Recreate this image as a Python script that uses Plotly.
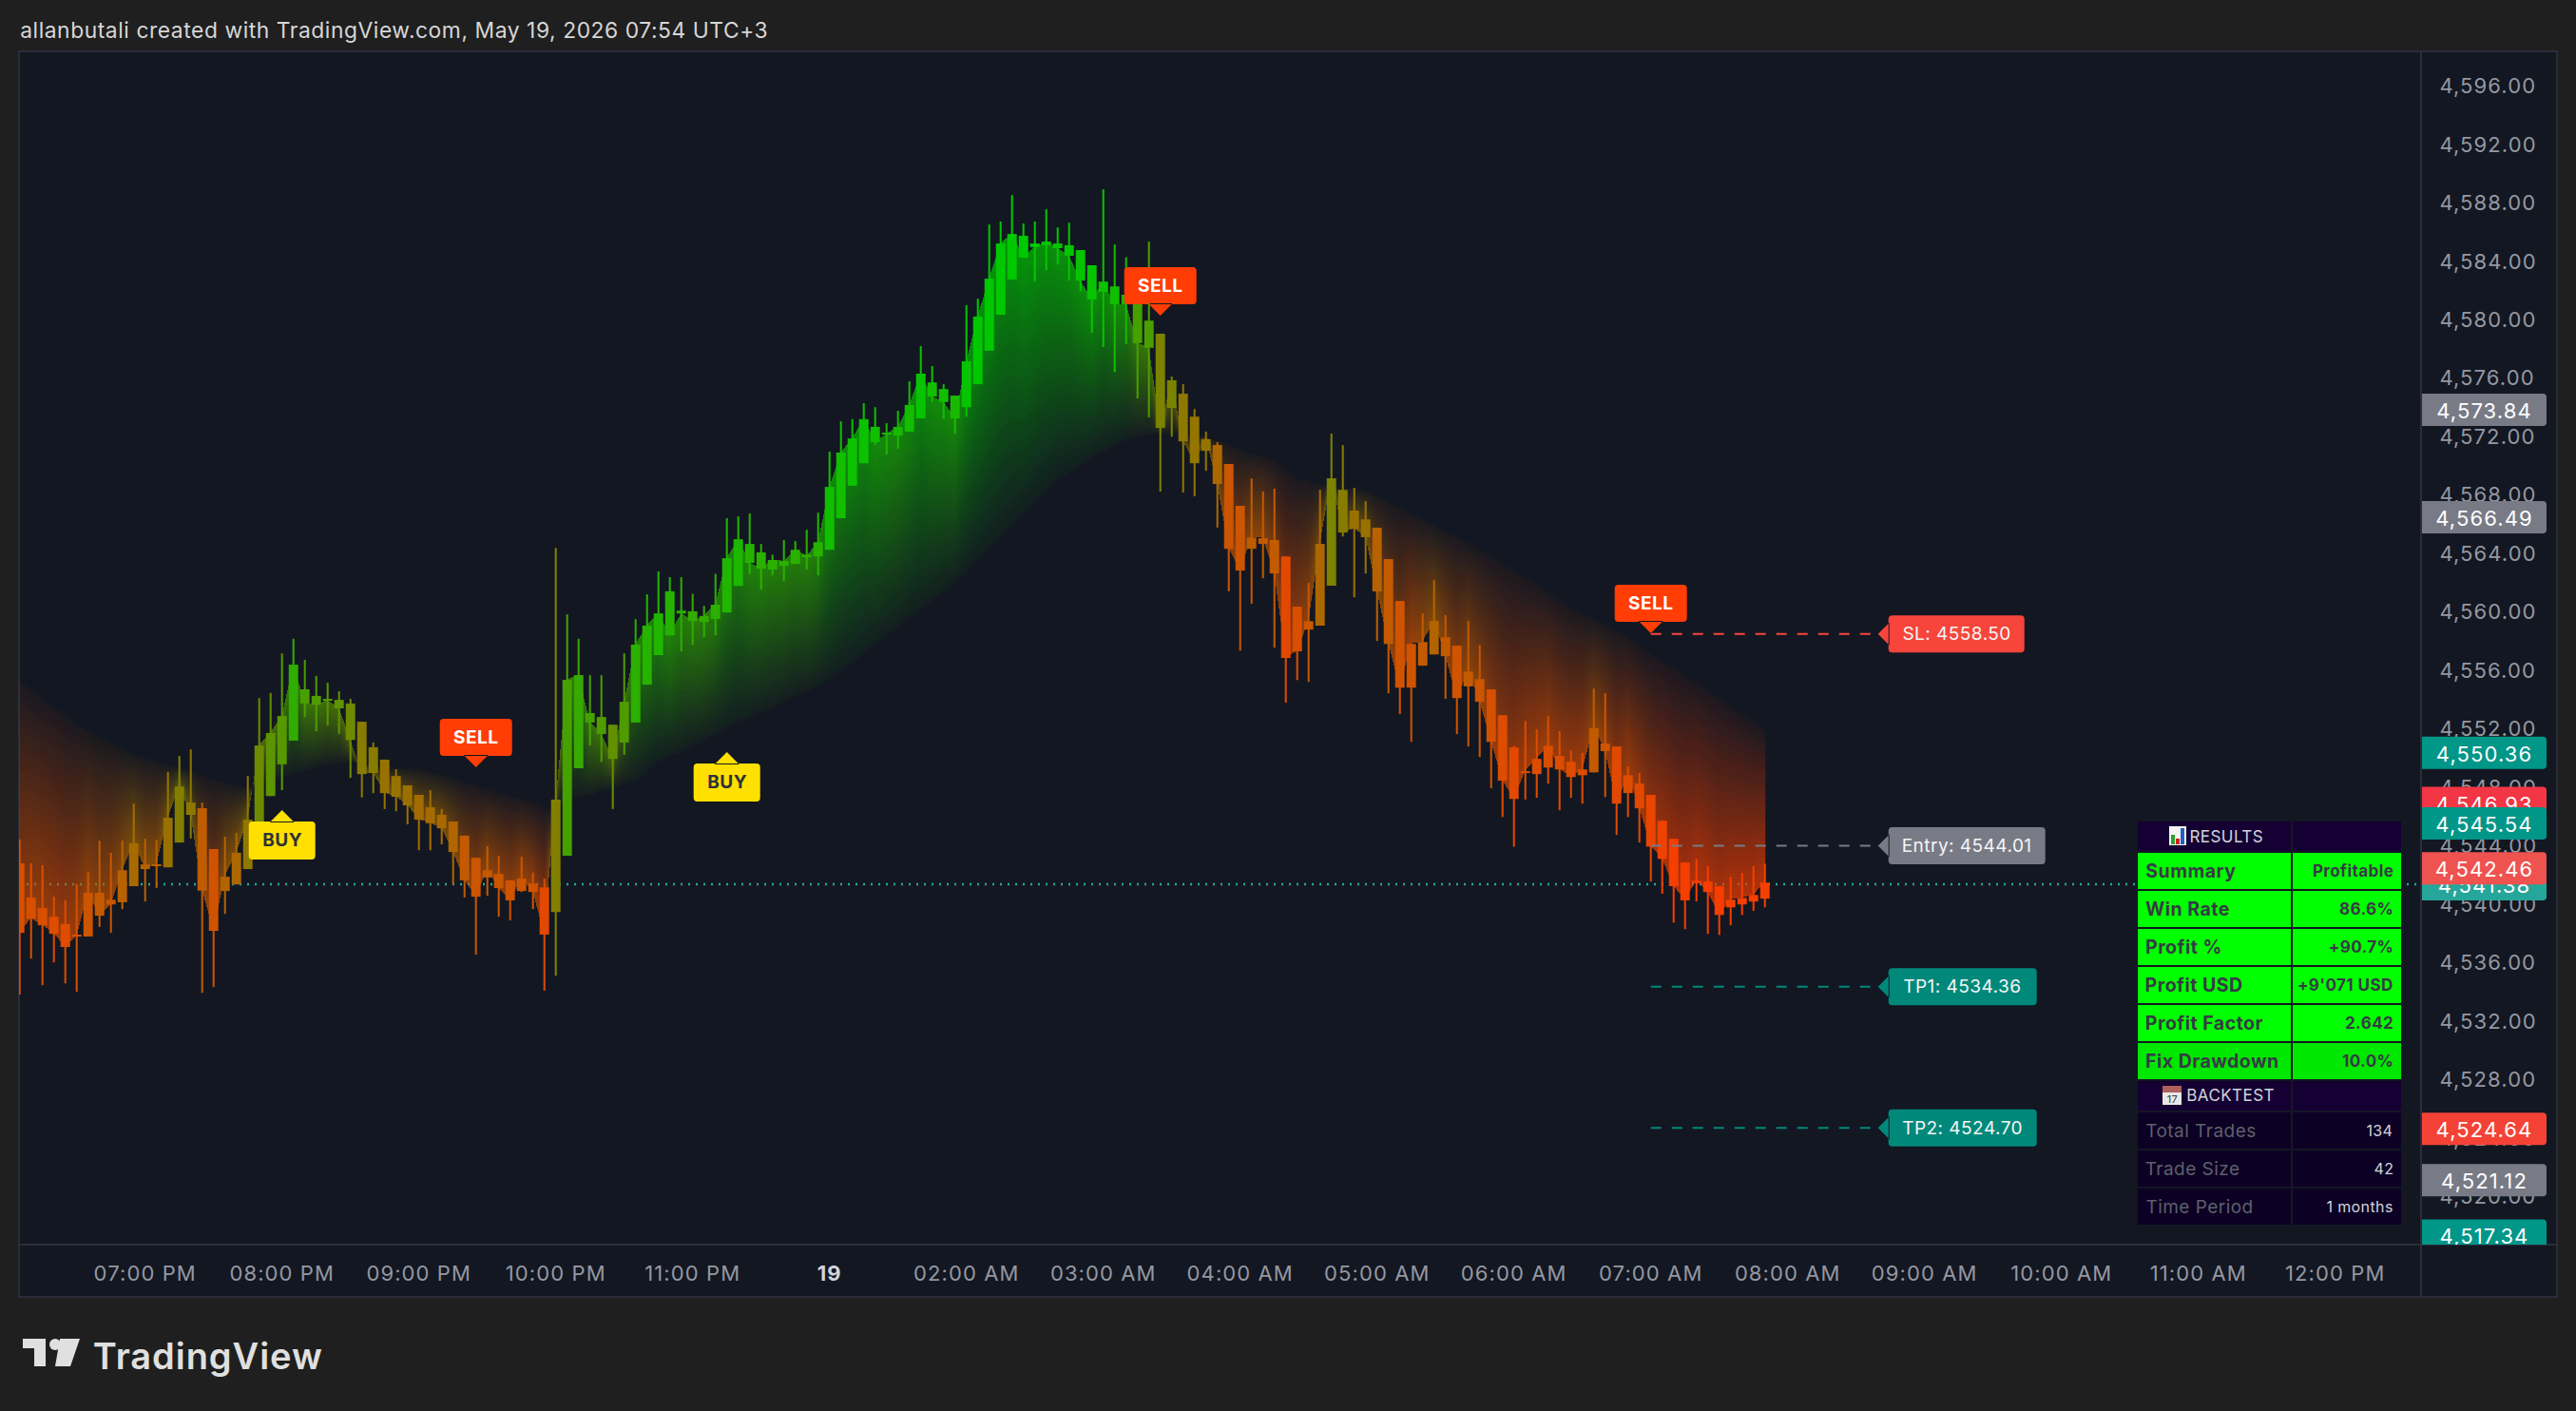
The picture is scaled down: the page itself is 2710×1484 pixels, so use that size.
import base64
import struct
import zlib

import numpy as np
import plotly.graph_objects as go

# 5 minute gold candles
open_p = [4542.70, 4540.36, 4539.63, 4539.04, 4538.54, 4537.79, 4537.69, 4540.68, 4540.21, 4540.03,
          4541.13, 4542.62, 4542.52, 4542.42, 4544.12, 4546.85, 4546.46, 4543.67, 4540.80, 4541.25,
          4542.30, 4545.34, 4547.30, 4549.47, 4551.09, 4554.60, 4554.15, 4553.95, 4553.88, 4553.63,
          4552.38, 4550.64, 4549.79, 4548.67, 4548.03, 4547.38, 4546.53, 4546.01, 4545.56, 4544.59,
          4543.07, 4541.73, 4541.97, 4541.53, 4540.80, 4541.30, 4541.05, 4539.36, 4543.22, 4549.20,
          4552.98, 4552.71, 4552.18, 4550.96, 4552.33, 4554.92, 4556.94, 4561.31, 4559.99, 4559.94,
          4559.22, 4559.42, 4559.86, 4561.68, 4564.55, 4563.97, 4562.80, 4563.05, 4563.18, 4563.82,
          4563.70, 4564.15, 4566.31, 4568.53, 4570.07, 4572.56, 4572.16, 4571.97, 4572.24, 4573.14,
          4575.60, 4575.15, 4574.70, 4573.91, 4575.48, 4577.77, 4580.23, 4582.65, 4585.64, 4585.11,
          4584.99, 4585.11, 4584.99, 4584.66, 4583.62, 4581.80, 4582.17, 4581.60, 4581.30, 4579.83,
          4578.94, 4573.86, 4574.83, 4573.26, 4570.92, 4571.32, 4570.02, 4567.16, 4564.22, 4564.55,
          4564.82, 4563.70, 4560.26, 4558.69, 4558.96, 4561.70, 4568.25, 4566.83, 4566.23, 4565.66,
          4563.51, 4560.65, 4554.72, 4556.22, 4556.99, 4558.16, 4557.59, 4554.80, 4555.30, 4554.60,
          4552.83, 4550.62, 4548.87, 4548.80, 4549.25, 4550.04, 4549.64, 4548.72, 4548.92, 4550.89,
          4550.69, 4547.50, 4548.15, 4547.38, 4545.61, 4544.37, 4542.75, 4541.38, 4541.45, 4541.13,
          4539.68, 4539.88, 4540.08, 4540.28]
high_p = [4544.34, 4542.70, 4542.57, 4540.41, 4540.16, 4541.30, 4542.10, 4544.24, 4543.42, 4544.24,
          4546.78, 4544.39, 4544.29, 4548.95, 4550.04, 4550.49, 4546.85, 4543.67, 4544.51, 4544.76,
          4548.67, 4554.00, 4554.35, 4557.06, 4558.06, 4556.62, 4555.52, 4555.05, 4554.47, 4553.95,
          4552.38, 4550.96, 4549.79, 4549.12, 4548.03, 4547.38, 4547.70, 4546.41, 4545.56, 4544.59,
          4543.07, 4543.87, 4543.22, 4541.53, 4543.14, 4542.05, 4541.65, 4564.28, 4559.73, 4558.06,
          4555.57, 4555.57, 4552.18, 4557.06, 4559.40, 4561.10, 4562.67, 4562.28, 4562.28, 4561.13,
          4560.31, 4562.50, 4566.31, 4566.44, 4566.64, 4564.55, 4563.82, 4564.82, 4564.74, 4565.52,
          4566.69, 4570.87, 4572.94, 4573.09, 4574.18, 4573.91, 4572.81, 4573.66, 4575.68, 4578.09,
          4576.72, 4575.48, 4574.70, 4580.88, 4581.33, 4586.41, 4586.61, 4588.42, 4586.48, 4586.61,
          4587.45, 4586.21, 4586.53, 4584.66, 4583.62, 4588.82, 4585.04, 4584.17, 4581.30, 4585.24,
          4578.94, 4576.00, 4575.48, 4573.78, 4572.24, 4571.52, 4570.02, 4567.16, 4569.03, 4568.13,
          4568.33, 4563.70, 4560.26, 4561.88, 4568.25, 4572.10, 4571.31, 4568.39, 4567.47, 4565.66,
          4563.51, 4560.65, 4557.71, 4559.80, 4562.07, 4559.68, 4557.59, 4559.28, 4557.64, 4554.60,
          4552.83, 4550.74, 4552.43, 4551.86, 4552.76, 4551.74, 4550.42, 4550.24, 4554.65, 4554.33,
          4550.69, 4549.32, 4548.87, 4547.38, 4545.61, 4544.37, 4542.75, 4543.00, 4542.50, 4541.13,
          4541.78, 4542.03, 4542.50, 4542.67]
low_p = [4533.71, 4536.17, 4534.36, 4535.92, 4534.48, 4533.91, 4537.69, 4538.34, 4537.94, 4539.56,
         4541.13, 4540.08, 4541.00, 4542.42, 4544.12, 4544.39, 4533.83, 4534.23, 4539.24, 4541.25,
         4542.30, 4545.34, 4547.30, 4547.70, 4551.09, 4552.71, 4551.74, 4552.13, 4551.54, 4548.55,
         4547.20, 4547.50, 4546.41, 4546.26, 4545.36, 4543.59, 4543.59, 4543.99, 4541.23, 4540.36,
         4536.45, 4540.48, 4539.04, 4538.79, 4540.73, 4539.56, 4533.98, 4535.00, 4543.22, 4549.20,
         4550.76, 4549.64, 4546.41, 4550.12, 4552.33, 4554.92, 4556.94, 4558.30, 4557.20, 4557.65,
         4558.17, 4558.30, 4559.86, 4561.68, 4562.48, 4561.43, 4562.40, 4562.01, 4563.18, 4562.80,
         4562.40, 4564.15, 4566.31, 4568.53, 4570.07, 4571.32, 4570.67, 4571.07, 4572.24, 4573.14,
         4574.26, 4573.09, 4572.09, 4573.26, 4575.48, 4577.77, 4580.23, 4582.65, 4584.14, 4582.50,
         4583.29, 4583.67, 4582.57, 4581.85, 4578.99, 4578.02, 4576.32, 4578.22, 4574.51, 4573.21,
         4568.13, 4571.89, 4568.06, 4567.81, 4569.55, 4565.67, 4561.31, 4557.25, 4560.46, 4562.20,
         4557.45, 4553.69, 4555.23, 4555.11, 4558.96, 4561.70, 4565.06, 4560.90, 4562.52, 4557.91,
         4554.33, 4552.91, 4551.01, 4556.22, 4556.99, 4553.95, 4551.54, 4550.69, 4549.97, 4547.83,
         4545.86, 4543.84, 4547.06, 4547.18, 4548.15, 4546.33, 4547.18, 4546.78, 4548.92, 4547.23,
         4544.64, 4545.86, 4544.12, 4541.45, 4540.61, 4538.64, 4538.19, 4540.08, 4537.87, 4537.79,
         4538.46, 4539.16, 4539.44, 4539.68]
close_p = [4537.94, 4538.91, 4538.46, 4537.87, 4536.97, 4537.69, 4540.68, 4539.11, 4539.88, 4542.22,
           4544.07, 4542.30, 4542.62, 4545.81, 4547.95, 4546.01, 4540.83, 4538.07, 4541.78, 4543.42,
           4545.68, 4550.76, 4551.61, 4552.78, 4556.29, 4553.63, 4553.55, 4553.83, 4553.30, 4551.14,
           4548.80, 4548.87, 4547.50, 4547.25, 4546.66, 4545.68, 4545.44, 4545.09, 4543.47, 4541.53,
           4540.41, 4542.22, 4541.00, 4540.16, 4541.65, 4540.73, 4537.82, 4547.05, 4555.25, 4555.57,
           4552.33, 4551.54, 4549.84, 4553.75, 4557.66, 4558.96, 4559.80, 4558.30, 4559.79, 4559.27,
           4559.62, 4560.39, 4563.57, 4564.87, 4563.25, 4562.85, 4563.45, 4563.37, 4564.15, 4563.70,
           4564.67, 4568.45, 4570.80, 4571.77, 4573.09, 4571.52, 4572.04, 4572.56, 4574.06, 4576.20,
           4574.63, 4574.26, 4573.14, 4577.05, 4580.11, 4582.70, 4585.11, 4585.76, 4584.14, 4584.86,
           4585.24, 4584.79, 4584.27, 4582.57, 4581.28, 4582.50, 4580.95, 4580.95, 4578.29, 4577.97,
           4572.49, 4575.75, 4571.57, 4570.07, 4571.72, 4568.65, 4564.22, 4562.73, 4564.99, 4564.94,
           4562.53, 4556.75, 4557.20, 4559.27, 4564.56, 4569.04, 4565.33, 4565.58, 4565.01, 4561.30,
           4557.71, 4554.72, 4557.71, 4557.84, 4559.28, 4556.87, 4554.00, 4555.82, 4553.75, 4551.01,
           4548.35, 4547.10, 4549.00, 4549.84, 4550.74, 4549.12, 4548.60, 4549.12, 4551.94, 4550.37,
           4546.78, 4548.72, 4546.46, 4543.84, 4543.00, 4541.13, 4540.16, 4541.50, 4540.73, 4539.16,
           4540.21, 4540.33, 4540.53, 4541.38]
# slow average the gradient cloud fades out to
slow_ma = [4555.2, 4554.6, 4554.0, 4553.4, 4552.8, 4552.2, 4551.7, 4551.3, 4550.9, 4550.5,
           4550.1, 4549.9, 4549.6, 4549.4, 4549.2, 4549.0, 4548.7, 4548.4, 4548.2, 4548.0,
           4547.8, 4548.0, 4548.2, 4548.5, 4548.8, 4549.0, 4549.2, 4549.4, 4549.5, 4549.6,
           4549.5, 4549.4, 4549.3, 4549.2, 4549.15, 4549.1, 4548.9, 4548.7, 4548.5, 4548.2,
           4548.0, 4547.75, 4547.5, 4547.3, 4547.05, 4546.8, 4546.5, 4546.2, 4547.1, 4547.2,
           4547.3, 4547.6, 4547.8, 4548.1, 4548.3, 4548.9, 4549.6, 4550.0, 4550.3, 4550.7,
           4551.0, 4551.5, 4551.9, 4552.3, 4552.6, 4553.0, 4553.3, 4553.7, 4554.1, 4554.4,
           4554.8, 4555.2, 4555.8, 4556.4, 4557.0, 4557.6, 4558.2, 4558.8, 4559.4, 4560.0,
           4560.6, 4561.2, 4561.8, 4562.6, 4563.4, 4564.2, 4565.0, 4565.8, 4566.6, 4567.4,
           4568.1, 4568.9, 4569.4, 4569.9, 4570.4, 4570.8, 4571.2, 4571.6, 4571.8, 4572.0,
           4572.1, 4572.1, 4572.0, 4571.9, 4571.85, 4571.6, 4571.3, 4571.0, 4570.7, 4570.5,
           4570.3, 4569.6, 4569.0, 4568.8, 4568.6, 4568.5, 4568.4, 4568.3, 4568.2, 4567.8,
           4567.4, 4567.0, 4566.6, 4566.2, 4565.8, 4565.4, 4565.0, 4564.6, 4564.1, 4563.7,
           4563.2, 4562.7, 4562.2, 4561.7, 4561.2, 4560.7, 4560.1, 4559.7, 4559.4, 4559.0,
           4558.6, 4558.1, 4557.6, 4557.0, 4556.5, 4556.0, 4555.5, 4555.0, 4554.5, 4554.0,
           4553.4, 4552.9, 4552.4, 4551.8]
# 0 = bearish orange, 1 = bullish green
trend = [.12, .12, .12, .10, .10, .12, .17, .20, .17, .25,
         .32, .25, .25, .37, .47, .42, .22, .15, .27, .30,
         .42, .55, .62, .65, .80, .70, .68, .65, .62, .55,
         .45, .45, .38, .38, .37, .33, .33, .32, .28, .20,
         .17, .20, .17, .15, .17, .15, .08, .47, .72, .78,
         .72, .68, .60, .68, .82, .85, .87, .85, .82, .80,
         .80, .82, .87, .88, .85, .83, .83, .82, .83, .82,
         .85, .93, .93, .95, .95, .93, .90, .90, .93, .97,
         .93, .93, .90, .97, 1.0, 1.0, 1.0, 1.0, 1.0, 1.0,
         .98, .98, .98, .97, .97, .95, .93, .88, .72, .70,
         .50, .50, .42, .40, .40, .30, .17, .17, .22, .20,
         .20, .08, .12, .18, .30, .50, .45, .37, .37, .25,
         .20, .15, .15, .20, .27, .20, .15, .20, .17, .13,
         .10, .08, .10, .10, .12, .10, .10, .10, .20, .15,
         .08, .10, .08, .05, .03, 0, 0, 0, 0, 0,
         0, 0, 0, 0]

time_ticks = [11, 23, 35, 47, 59, 71, 83, 95, 107, 119, 131, 143, 155, 167, 179, 191, 203]
time_labels = ["07:00 PM", "08:00 PM", "09:00 PM", "10:00 PM", "11:00 PM",
               "<b><span style='color:#d1d4dc'>19</span></b>", "02:00 AM", "03:00 AM", "04:00 AM",
               "05:00 AM", "06:00 AM", "07:00 AM", "08:00 AM", "09:00 AM", "10:00 AM", "11:00 AM",
               "12:00 PM"]

signal_bars = [23, 62, 40, 100, 143]
signal_prices = [4546.34, 4550.31, 4549.26, 4580.17, 4558.44]
signal_names = ["BUY", "BUY", "SELL", "SELL", "SELL"]

level_names = ["SL", "Entry", "TP1", "TP2"]
level_prices = [4558.50, 4544.01, 4534.36, 4524.70]
level_colors = ["#f7453c", "#787b86", "#00897b", "#00897b"]
level_widths = [143, 165, 156, 156]

last_price = 4541.38
tag_prices = [4573.84, 4566.49, 4550.36, 4546.93, 4545.54, 4541.38, 4542.46, 4524.64, 4521.12, 4517.34]
tag_colors = ["#787b86", "#787b86", "#009688", "#f23645", "#009688", "#26a69a", "#ef5350",
              "#f44336", "#787b86", "#009688"]

results_labels = ["Summary", "Win Rate", "Profit %", "Profit USD", "Profit Factor", "Fix Drawdown"]
results_values = ["Profitable", "86.6%", "+90.7%", "+9'071 USD", "2.642", "10.0%"]
backtest_labels = ["Total Trades", "Trade Size", "Time Period"]
backtest_values = ["134", "42", "1 months"]

W, H = 2710, 1484
L, R, T, B = 20, 2547, 54, 1309
PX_PER_BAR = 12.0
PX_PER_USD = 15.37
Y_4560 = 643.7
# the candle readings were taken against the tick text, which sits a bit above the true tick
READ_BIAS = 0.11
BG = "#131722"
FONT = "Inter"
TRACK = 0.025

opens = np.array(open_p) + READ_BIAS
highs = np.array(high_p) + READ_BIAS
lows = np.array(low_p) + READ_BIAS
closes = np.array(close_p) + READ_BIAS
slow = np.array(slow_ma) + READ_BIAS


def px(x):
    return (x - L) / (R - L)


def py(y):
    return 1 - (y - T) / (B - T)


def png_uri(rgba):
    h, w = rgba.shape[:2]
    raw = b"".join(b"\x00" + rgba[r].tobytes() for r in range(h))

    def chunk(tag, data):
        return struct.pack(">I", len(data)) + tag + data + struct.pack(">I", zlib.crc32(tag + data))

    body = (b"\x89PNG\r\n\x1a\n" + chunk(b"IHDR", struct.pack(">IIBBBBB", w, h, 8, 6, 0, 0, 0))
            + chunk(b"IDAT", zlib.compress(raw, 6)) + chunk(b"IEND", b""))
    return "data:image/png;base64," + base64.b64encode(body).decode()


def cloud_image():
    # gradient between close and the slow average, strongest next to the candles
    bars = np.arange(len(closes))
    xs = np.arange(0, bars[-1] + 1e-6, 1 / PX_PER_BAR)
    line = np.interp(xs, bars, closes)
    ma = np.interp(xs, bars, slow)
    t = np.interp(xs, bars, trend)
    lo = min(line.min(), ma.min())
    hi = max(line.max(), ma.max())
    rows = np.arange(lo, hi, 1 / PX_PER_USD)
    gap = ma - line
    gap[np.abs(gap) < 1e-6] = 1e-6
    s = (rows[:, None] - line[None, :]) / gap[None, :]
    inside = (s >= 0) & (s <= 1)
    s = np.round(np.clip(s, 0, 1) * 26) / 26
    alpha = (0.66 * (1 - s) + 0.04) * inside
    rgba = np.zeros((len(rows), len(xs), 4), dtype=np.uint8)
    rgba[..., 0] = 245 * (1 - t)
    rgba[..., 1] = 62 + 138 * t
    rgba[..., 3] = np.round(alpha * 255)
    return rgba, rows[0], 1 / PX_PER_BAR, 1 / PX_PER_USD


def rounded(x0, y0, x1, y1, r=4):
    # y up, rounded box used by every tag
    return (f"M{x0 + r} {y0} L{x1 - r} {y0} Q{x1} {y0} {x1} {y0 + r} L{x1} {y1 - r} Q{x1} {y1} {x1 - r} {y1} "
            f"L{x0 + r} {y1} Q{x0} {y1} {x0} {y1 - r} L{x0} {y0 + r} Q{x0} {y0} {x0 + r} {y0} Z")


def rect(x0, y0, x1, y1, fill, layer="above"):
    return dict(type="rect", xref="paper", yref="paper", x0=px(x0), x1=px(x1), y0=py(y0), y1=py(y1),
                fillcolor=fill, line_width=0, layer=layer)


def text(x, y, s, size, color, anchor="left", weight=400):
    # tracking spreads around the middle of the box, so push the box back by half of it
    spread = TRACK * size * len(s) / 2
    if anchor == "left":
        x += spread
    elif anchor == "right":
        x -= spread
    return dict(text=s, xref="paper", yref="paper", x=px(x), y=py(y), xanchor=anchor, yanchor="middle",
                showarrow=False, font=dict(family=FONT, size=size, color=color, weight=weight))


shapes = []
notes = []

# frame and panes
shapes.append(dict(type="rect", xref="paper", yref="paper", x0=px(L), x1=px(2690), y0=py(54), y1=py(1364),
                   fillcolor=BG, line=dict(color="#2b2e38", width=2), layer="below"))
shapes.append(dict(type="line", xref="paper", yref="paper", x0=px(2547), x1=px(2547), y0=py(54), y1=py(1364),
                   line=dict(color="#2b2e38", width=2), layer="below"))
shapes.append(dict(type="line", xref="paper", yref="paper", x0=px(L), x1=px(2690), y0=py(1309), y1=py(1309),
                   line=dict(color="#2b2e38", width=2), layer="below"))

# last price line, sits behind the cloud
shapes.append(dict(type="line", xref="paper", yref="y", x0=0, x1=1, y0=last_price, y1=last_price,
                   line=dict(color="#26a69a", width=2.5, dash="2px,6px"), layer="below"))

# trade levels
for name, price, color, width in zip(level_names, level_prices, level_colors, level_widths):
    shapes.append(dict(type="line", x0=143, x1=162.4, y0=price, y1=price, xref="x", yref="y",
                       line=dict(color=color, width=2, dash="11px,11px")))
    box = rounded(10, -19.5, 10 + width, 19.5).replace("Z", "")
    shapes.append(dict(type="path", xref="x", yref="y", xsizemode="pixel", ysizemode="pixel",
                       xanchor=163, yanchor=price, line_width=0, fillcolor=color,
                       path=box + " Z M-1 0 L11 -12 L11 12 Z"))
    notes.append(dict(text=f"{name}: {price:.2f}", x=163, y=price, xref="x", yref="y", xshift=10 + width / 2,
                      showarrow=False, font=dict(family=FONT, size=19, color="#f5f5f5")))

# buy and sell flags
for bar, price, name in zip(signal_bars, signal_prices, signal_names):
    price += READ_BIAS
    if name == "BUY":
        path = rounded(-35, -52, 35, -12) + " M0 0 L-13 -13 L13 -13 Z"
        fill, ink, shift = "#ffe000", "#2e3138", -32
    else:
        path = rounded(-38, 12, 38, 51) + " M0 0 L-13 13 L13 13 Z"
        fill, ink, shift = "#ff3d05", "#ffffff", 31.5
    shapes.append(dict(type="path", xref="x", yref="y", xsizemode="pixel", ysizemode="pixel",
                       xanchor=bar, yanchor=price, line_width=0, fillcolor=fill, path=path))
    notes.append(dict(text=name, x=bar, y=price, xref="x", yref="y", yshift=shift, showarrow=False,
                      font=dict(family=FONT, size=19, color=ink, weight=700)))

# results table
NAVY, INK, GREEN = "#140032", "#363a45", "#00ff00"
shapes.append(rect(2249, 864, 2410, 895, NAVY))
shapes.append(rect(2412, 864, 2526, 895, NAVY))
shapes += [rect(2282, 869, 2300, 889, "#f4f4f4"), rect(2284, 878, 2288, 888, "#2ca02c"),
           rect(2289, 882, 2293, 888, "#d62020"), rect(2294, 871, 2298, 888, "#2060c0")]
notes.append(text(2302, 880, "RESULTS", 17, "#d1d4dc"))
for i, (label, value) in enumerate(zip(results_labels, results_values)):
    y0 = 897 + 40 * i
    green = "#00e800" if i == 5 else GREEN
    shapes.append(rect(2249, y0, 2410, y0 + 38, green))
    shapes.append(rect(2412, y0, 2526, y0 + 38, green))
    notes.append(text(2255, y0 + 19, label, 19.5, INK, weight=700))
    notes.append(text(2520, y0 + 19, value, 17, INK, anchor="right", weight=700))
shapes.append(rect(2249, 1137, 2410, 1168, NAVY))
shapes.append(rect(2412, 1137, 2526, 1168, NAVY))
shapes += [rect(2275, 1142, 2295, 1162, "#e8e8e8"), rect(2275, 1142, 2295, 1149, "#b0605c")]
notes.append(text(2285, 1156, "17", 11, "#3a3a3a", anchor="center"))
notes.append(text(2298, 1152, "BACKTEST", 17, "#d1d4dc"))
for i, (label, value) in enumerate(zip(backtest_labels, backtest_values)):
    y0 = 1170 + 40 * i
    shapes.append(rect(2249, y0, 2410, y0 + 38, "#0c0024"))
    shapes.append(rect(2412, y0, 2526, y0 + 38, "#0c0024"))
    notes.append(text(2255, y0 + 19, label, 19, "#5d606b"))
    notes.append(text(2520, y0 + 19, value, 16, "#d1d4dc", anchor="right"))

# price tags on the axis, later ones cover earlier ones
for price, color in zip(tag_prices, tag_colors):
    path = "M1 -17 L128 -17 Q132 -17 132 -13 L132 13 Q132 17 128 17 L1 17 Z"
    shapes.append(dict(type="path", xref="paper", yref="y", xsizemode="pixel", ysizemode="pixel",
                       xanchor=1, yanchor=price, line_width=0, fillcolor=color, path=path,
                       label=dict(text=f"{price:,.2f}", font=dict(family=FONT, size=22, color="#ffffff"),
                                  textposition="middle center")))

# header and logo
notes.append(text(19, 31, "allanbutali created with TradingView.com, May 19, 2026 07:54 UTC+3", 22.8, "#d6d6d6"))
shapes.append(dict(type="path", xref="paper", yref="paper", fillcolor="#e0e0e0", line_width=0,
                   path=f"M{px(24)} {py(1408)} L{px(48)} {py(1408)} L{px(48)} {py(1437)} L{px(36)} {py(1437)} "
                        f"L{px(36)} {py(1418)} L{px(24)} {py(1418)} Z "
                        f"M{px(63)} {py(1408)} L{px(84)} {py(1408)} L{px(74)} {py(1437)} L{px(58)} {py(1437)} Z"))
shapes.append(dict(type="circle", xref="paper", yref="paper", x0=px(52), x1=px(64), y0=py(1420), y1=py(1408),
                   fillcolor="#e0e0e0", line_width=0))
notes.append(text(96, 1426, "TradingView", 38, "#e0e0e0", weight=600))

body_low = np.minimum(opens, closes)
body_size = np.abs(closes - opens)
candle_scale = [[0, "rgb(245,62,0)"], [1, "rgb(0,200,0)"]]
bars = list(range(len(closes)))

rgba, y_start, dx, dy = cloud_image()

fig = go.Figure()
fig.add_trace(go.Image(source=png_uri(rgba), x0=0, y0=y_start, dx=dx, dy=dy, hoverinfo="skip"))
fig.add_trace(go.Bar(x=bars, y=highs - lows, base=lows, width=0.17,
                     marker=dict(color=trend, colorscale=candle_scale, cmin=0, cmax=1, line_width=0),
                     hoverinfo="skip"))
fig.add_trace(go.Bar(x=bars, y=body_size, base=body_low, width=0.83,
                     marker=dict(color=trend, colorscale=candle_scale, cmin=0, cmax=1, line_width=0),
                     hoverinfo="skip"))

fig.update_layout(
    width=W,
    height=H,
    autosize=False,
    showlegend=False,
    barmode="overlay",
    paper_bgcolor="#1f1f1f",
    plot_bgcolor="rgba(0,0,0,0)",
    margin=dict(l=L, r=W - R, t=T, b=H - B),
    shapes=shapes,
    annotations=notes,
    xaxis=dict(range=[(L - 20.7) / PX_PER_BAR, (R - 20.7) / PX_PER_BAR], showgrid=False, zeroline=False,
               constrain="range", tickmode="array", tickvals=time_ticks, ticktext=time_labels, ticks="outside",
               ticklen=11, tickcolor="rgba(0,0,0,0)", tickfont=dict(family=FONT, size=22, color="#9598a1")),
    yaxis=dict(range=[4560 - (B - Y_4560) / PX_PER_USD, 4560 + (Y_4560 - T) / PX_PER_USD], side="right",
               scaleanchor=False, constrain="range", showgrid=False, zeroline=False, tick0=4520, dtick=4,
               tickformat=",.2f", ticks="outside", ticklen=14, tickcolor="rgba(0,0,0,0)",
               tickfont=dict(family=FONT, size=22, color="#9598a1")),
)

# inter runs tighter than the font in the screenshot
tracking = ("document.body.style.margin='0';document.body.style.overflow='hidden';"
            "document.head.insertAdjacentHTML('beforeend','<style>.xtick text,.ytick text,.shapelayer text"
            "{letter-spacing:.05em}.annotation text{letter-spacing:.025em}</style>');")
fig.write_html("out.html", config={"displayModeBar": False}, post_script=tracking)
